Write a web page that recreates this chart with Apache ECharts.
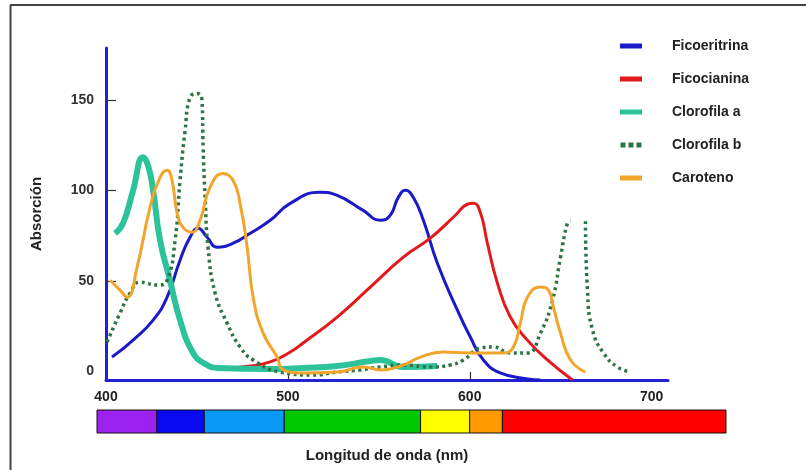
<!DOCTYPE html>
<html>
<head>
<meta charset="utf-8">
<script src="https://cdn.jsdelivr.net/npm/echarts@6/dist/echarts.min.js"></script>
<style>
  html, body { margin: 0; padding: 0; background: #fff; }
  #chart { width: 806px; height: 470px; }
</style>
</head>
<body>
<div id="chart"></div>
<script>
// Absorption spectra of photosynthetic pigments: [wavelength (nm), absorption]
const ficoeritrina = [
  [403.3, 7.7], [414.9, 17.1], [425.9, 28.2], [433.6, 40.9], [440.7, 61.4],
  [446.2, 74.1], [450.6, 79.1], [455.6, 74.1], [461.1, 68.6], [469.9, 70.8],
  [479.3, 76.3], [490.3, 83.5], [501.3, 92.9], [517.8, 99.0], [527.1, 97.3],
  [541.4, 89.0], [550.8, 83.5], [556.3, 86.3], [560.7, 96.2], [564.6, 100.1],
  [569.0, 96.2], [574.5, 83.5], [582.2, 59.7], [593.2, 33.7], [600.3, 18.8],
  [607.5, 6.1], [616.8, -1.1], [631.7, -4.4], [638.9, -5.0]
];
const ficocianina = [
  [462.7, 1.1], [479.3, 2.8], [490.3, 5.0], [501.3, 10.5], [508.4, 15.5],
  [527.1, 29.9], [545.3, 46.5], [563.5, 63.1], [578.3, 73.6], [592.1, 86.3],
  [598.7, 92.4], [602.0, 92.9], [605.8, 87.9], [609.7, 70.8], [615.2, 48.7],
  [622.3, 29.9], [631.7, 17.1], [642.7, 6.1], [656.5, -5.0]
];
const clorofilaA = [
  [405.0, 76.3], [409.4, 81.9], [414.9, 100.1], [420.4, 118.4], [423.1, 113.9],
  [425.9, 100.1], [429.7, 72.5], [435.2, 50.3], [440.7, 28.2], [447.9, 10.0],
  [454.5, 3.9], [461.6, 1.7], [490.3, 1.1], [508.4, 1.7], [527.1, 2.8],
  [545.3, 5.5], [550.8, 6.1], [563.5, 2.2], [582.2, 2.8]
];
const clorofilaB = [
  [400.6, 16.0], [407.7, 32.1], [413.2, 43.1], [418.7, 49.2], [428.6, 47.6],
  [433.6, 50.3], [438.0, 72.5], [440.7, 105.6], [443.5, 133.3], [446.2, 151.5],
  [450.1, 153.8], [452.8, 149.9], [453.4, 123.9], [454.5, 96.2], [456.1, 68.6],
  [460.0, 43.1], [466.6, 26.5], [473.7, 13.3], [480.9, 6.1], [495.8, -0.6],
  [513.9, -2.2], [527.1, -0.6], [539.8, 0.6], [550.8, 2.2], [563.5, 3.3],
  [578.3, 2.2], [589.3, 3.3], [596.5, 6.1], [605.8, 12.7], [613.0, 13.3],
  [622.3, 10.0], [631.7, 10.0], [638.9, 21.0], [645.5, 39.3], [649.9, 63.1],
  [653.7, 81.9], [655.4, 83.0], [659.5, null],
  [663.6, 83.0], [664.7, 44.8], [667.5, 22.7], [673.5, 10.0], [681.2, 2.2],
  [688.4, -0.6]
];
const caroteno = [
  [402.2, 50.3], [407.7, 44.8], [411.6, 40.9], [417.1, 57.5], [424.2, 90.7],
  [429.7, 107.3], [433.6, 111.2], [436.3, 105.6], [439.1, 87.4], [442.4, 79.6],
  [447.3, 76.9], [451.7, 83.5], [457.2, 101.8], [464.4, 109.5], [469.9, 105.6],
  [473.7, 92.9], [477.6, 68.6], [480.9, 40.9], [486.4, 21.0], [494.1, 7.7],
  [497.4, 0.6], [508.4, -1.1], [527.1, -0.6], [541.4, 2.2], [550.8, 0.6],
  [563.5, 3.3], [572.8, 7.7], [585.5, 10.5], [600.3, 10.0], [618.5, 10.0],
  [624.0, 13.3], [627.8, 26.5], [631.7, 40.9], [638.9, 46.5], [643.3, 44.8],
  [646.0, 35.4], [649.9, 21.0], [655.4, 6.1], [663.6, -0.6]
];

const seriesNames = ['Ficoeritrina', 'Ficocianina', 'Clorofila a', 'Clorofila b', 'Caroteno'];
const xTickLabels = [400, 500, 600, 700];
const yTickLabels = [0, 50, 100, 150];

// Visible spectrum bands (nm): each band runs from edge i to edge i+1
const bandEdges = [395, 428, 454, 498, 573, 600, 618, 741];
const bandColors = ['#9b22f0', '#0a0af2', '#0a98f5', '#00c800', '#ffff00', '#ff9a00', '#ff0000'];

const bands = bandColors.map((c, i) => [bandEdges[i], bandEdges[i + 1], i]);

const font = '"Liberation Sans", Arial, sans-serif';
const axisBlue = '#2222d2';

const chart = echarts.init(document.getElementById('chart'));

const lineSeries = (name, data, color, width, type) => ({
  name, type: 'line', data,
  xAxisIndex: 0, yAxisIndex: 0,
  smooth: 0.5,
  showSymbol: false, connectNulls: false,
  color,
  lineStyle: { color, width, type: type || 'solid', cap: 'butt', join: 'round' },
  emphasis: { disabled: true },
  z: 3
});

chart.setOption({
  animation: false,
  backgroundColor: '#fff',
  textStyle: { fontFamily: font },
  grid: [
    { left: 106, right: 138, top: 48, bottom: 90 },
    { left: 97, right: 80, top: 410, height: 23 }
  ],
  legend: {
    orient: 'vertical',
    left: 615, top: 34,
    itemWidth: 22, itemHeight: 5, itemGap: 19,
    textStyle: { fontFamily: font, fontWeight: 'bold', fontSize: 14, color: '#222', padding: [0, 0, 0, 25] },
    data: [
      { name: seriesNames[0], icon: 'rect' },
      { name: seriesNames[1], icon: 'rect' },
      { name: seriesNames[2], icon: 'rect' },
      { name: seriesNames[3], icon: 'path://M0,0h5v5h-5z M8,0h5v5h-5z M16,0h5v5h-5z' },
      { name: seriesNames[4], icon: 'rect' }
    ]
  },
  xAxis: [
    {
      gridIndex: 0, type: 'value', min: 400, max: 709,
      name: 'Longitud de onda (nm)', nameLocation: 'middle', nameGap: 68,
      nameTextStyle: { fontFamily: font, fontWeight: 'bold', fontSize: 15, color: '#222' },
      axisLine: { onZero: false, lineStyle: { color: axisBlue, width: 3 } },
      axisTick: { show: true, inside: true, length: 8, customValues: [500, 600], lineStyle: { color: '#333', width: 1.2 } },
      axisLabel: { customValues: xTickLabels, margin: 10, fontFamily: font, fontWeight: 'bold', fontSize: 14, color: '#222' },
      splitLine: { show: false }
    },
    {
      gridIndex: 1, type: 'value', min: bandEdges[0], max: bandEdges[bandEdges.length - 1],
      show: false
    }
  ],
  yAxis: [
    {
      gridIndex: 0, type: 'value', min: -5, max: 179,
      name: 'Absorción', nameLocation: 'middle', nameGap: 62, nameRotate: 90,
      nameTextStyle: { fontFamily: font, fontWeight: 'bold', fontSize: 15, color: '#222' },
      axisLine: { show: true, lineStyle: { color: axisBlue, width: 3 } },
      axisTick: { show: true, inside: true, length: 10, customValues: [50, 100, 150], lineStyle: { color: '#333', width: 1.2 } },
      axisLabel: { customValues: yTickLabels, margin: 12, fontFamily: font, fontWeight: 'bold', fontSize: 14, color: '#333' },
      splitLine: { show: false }
    },
    { gridIndex: 1, type: 'value', min: 0, max: 1, show: false }
  ],
  series: [
    lineSeries(seriesNames[0], ficoeritrina, '#1a1ac8', 3),
    lineSeries(seriesNames[1], ficocianina, '#e3191c', 3),
    lineSeries(seriesNames[2], clorofilaA, '#2cc39b', 6),
    lineSeries(seriesNames[3], clorofilaB, '#2f7446', 3.5, [3, 3.5]),
    lineSeries(seriesNames[4], caroteno, '#f2a52a', 3),
    {
      type: 'custom', xAxisIndex: 1, yAxisIndex: 1, silent: true,
      data: bands,
      renderItem(params, api) {
        const p0 = api.coord([api.value(0), 1]);
        const p1 = api.coord([api.value(1), 0]);
        return {
          type: 'rect',
          shape: { x: p0[0], y: p0[1], width: p1[0] - p0[0], height: p1[1] - p0[1] },
          style: { fill: bandColors[api.value(2)], stroke: '#111', lineWidth: 1 }
        };
      }
    }
  ],
  graphic: [
    { type: 'line', shape: { x1: 10.5, y1: 5, x2: 10.5, y2: 470 }, style: { stroke: '#444', lineWidth: 2 } },
    { type: 'line', shape: { x1: 10, y1: 5, x2: 806, y2: 5 }, style: { stroke: '#444', lineWidth: 2 } }
  ]
});
</script>
</body>
</html>
